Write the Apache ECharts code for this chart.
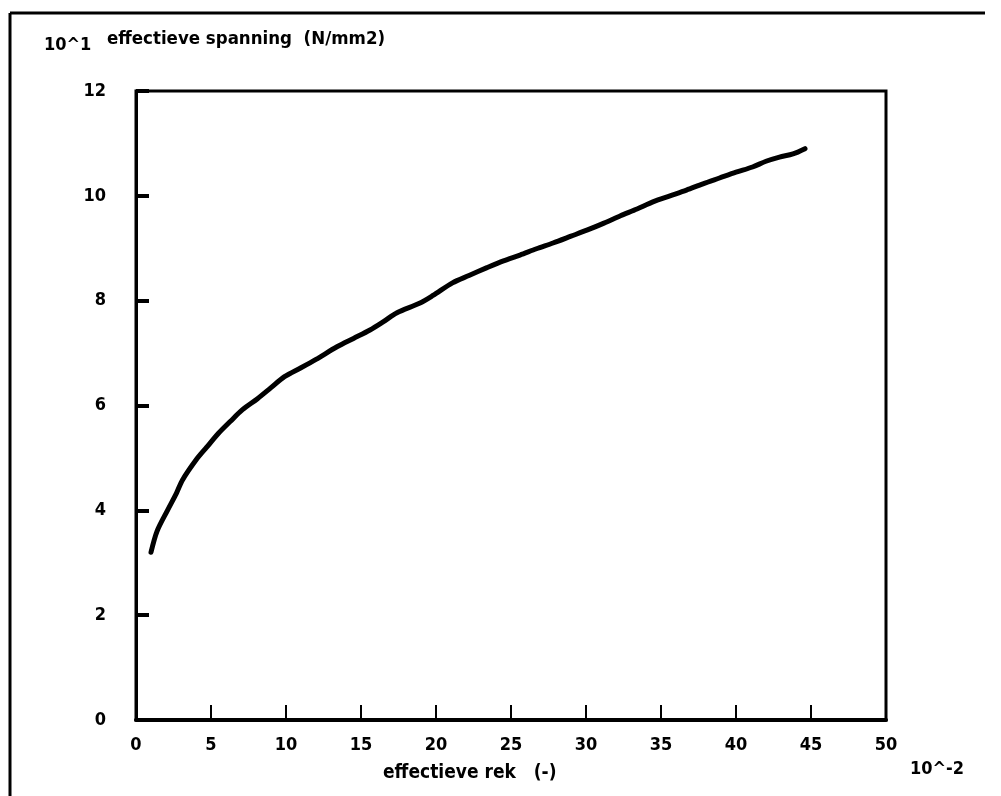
<!DOCTYPE html>
<html>
<head>
<meta charset="utf-8">
<script src="https://cdn.jsdelivr.net/npm/echarts@6/dist/echarts.min.js"></script>
<style>html,body{margin:0;padding:0;background:#fff;}#c{width:1001px;height:796px;}</style>
</head>
<body>
<div id="c"></div>
<script>
// effectieve rek (x 10^-2)
const strainX = [1.0, 1.4, 2.1, 2.7, 3.1, 4.0, 4.7, 5.5, 6.3, 7.1, 8.1, 9.0, 9.9, 11.0, 12.0, 13.4, 14.5, 15.6, 16.5, 17.4, 18.9, 19.8, 21.1, 22.2, 23.4, 24.5, 25.6, 26.7, 27.8, 29.0, 30.1, 31.2, 32.3, 33.4, 34.5, 35.6, 36.7, 37.8, 38.9, 40.0, 41.1, 42.0, 42.9, 43.8, 44.6];
// effectieve spanning (x 10^1 N/mm2)
const stressY = [3.2, 3.6, 4.0, 4.33, 4.58, 4.96, 5.2, 5.47, 5.7, 5.92, 6.13, 6.34, 6.55, 6.72, 6.88, 7.12, 7.28, 7.44, 7.6, 7.77, 7.95, 8.1, 8.34, 8.48, 8.63, 8.76, 8.87, 8.99, 9.1, 9.23, 9.35, 9.48, 9.62, 9.75, 9.89, 10.0, 10.11, 10.23, 10.34, 10.45, 10.55, 10.66, 10.74, 10.8, 10.9];
const xTicks = [0, 5, 10, 15, 20, 25, 30, 35, 40, 45, 50];
const yTicks = [0, 2, 4, 6, 8, 10, 12];
const yTitle = 'effectieve spanning  (N/mm2)';
const xTitle = 'effectieve rek   (-)';
const yExp = '10^1';
const xExp = '10^-2';

const FONT = '"Liberation Sans Narrow", "DejaVu Sans Condensed", sans-serif';
const chart = echarts.init(document.getElementById('c'), null, {renderer: 'canvas'});
const pts = strainX.map((x, i) => [x, stressY[i]]);
const txt = (x, y, s, size) => ({type: 'text', left: x, top: y, style: {text: s, font: 'bold ' + (size || 18) + 'px ' + FONT, fill: '#000'}});
chart.setOption({
  animation: false,
  backgroundColor: '#fff',
  grid: {left: 136, right: 115, top: 91, bottom: 76, show: true, borderColor: '#000', borderWidth: 3, backgroundColor: 'transparent'},
  xAxis: {
    type: 'value', min: xTicks[0], max: xTicks[xTicks.length - 1], interval: 5,
    axisLine: {show: true, lineStyle: {color: '#000', width: 4}},
    axisTick: {show: true, inside: true, length: 15, lineStyle: {color: '#000', width: 2}},
    axisLabel: {color: '#000', fontFamily: FONT, fontWeight: 'bold', fontSize: 18, margin: 16},
    splitLine: {show: false}
  },
  yAxis: {
    type: 'value', min: yTicks[0], max: yTicks[yTicks.length - 1], interval: 2,
    axisLine: {show: true, lineStyle: {color: '#000', width: 3}},
    axisTick: {show: true, inside: true, length: 13, lineStyle: {color: '#000', width: 4}},
    axisLabel: {color: '#000', fontFamily: FONT, fontWeight: 'bold', fontSize: 18, margin: 30},
    splitLine: {show: false}
  },
  series: [{
    type: 'line', data: pts, symbol: 'none', smooth: 0.3,
    lineStyle: {color: '#000', width: 5, cap: 'round', join: 'round'}
  }],
  graphic: [
    {type: 'line', shape: {x1: 10, y1: 13, x2: 985, y2: 13}, style: {stroke: '#000', lineWidth: 3}},
    {type: 'line', shape: {x1: 10, y1: 13, x2: 10, y2: 796}, style: {stroke: '#000', lineWidth: 3}},
    txt(44, 36, yExp),
    txt(107, 30, yTitle, 18.5),
    txt(383, 764, xTitle, 19),
    txt(910, 760, xExp)
  ]
});
</script>
</body>
</html>
